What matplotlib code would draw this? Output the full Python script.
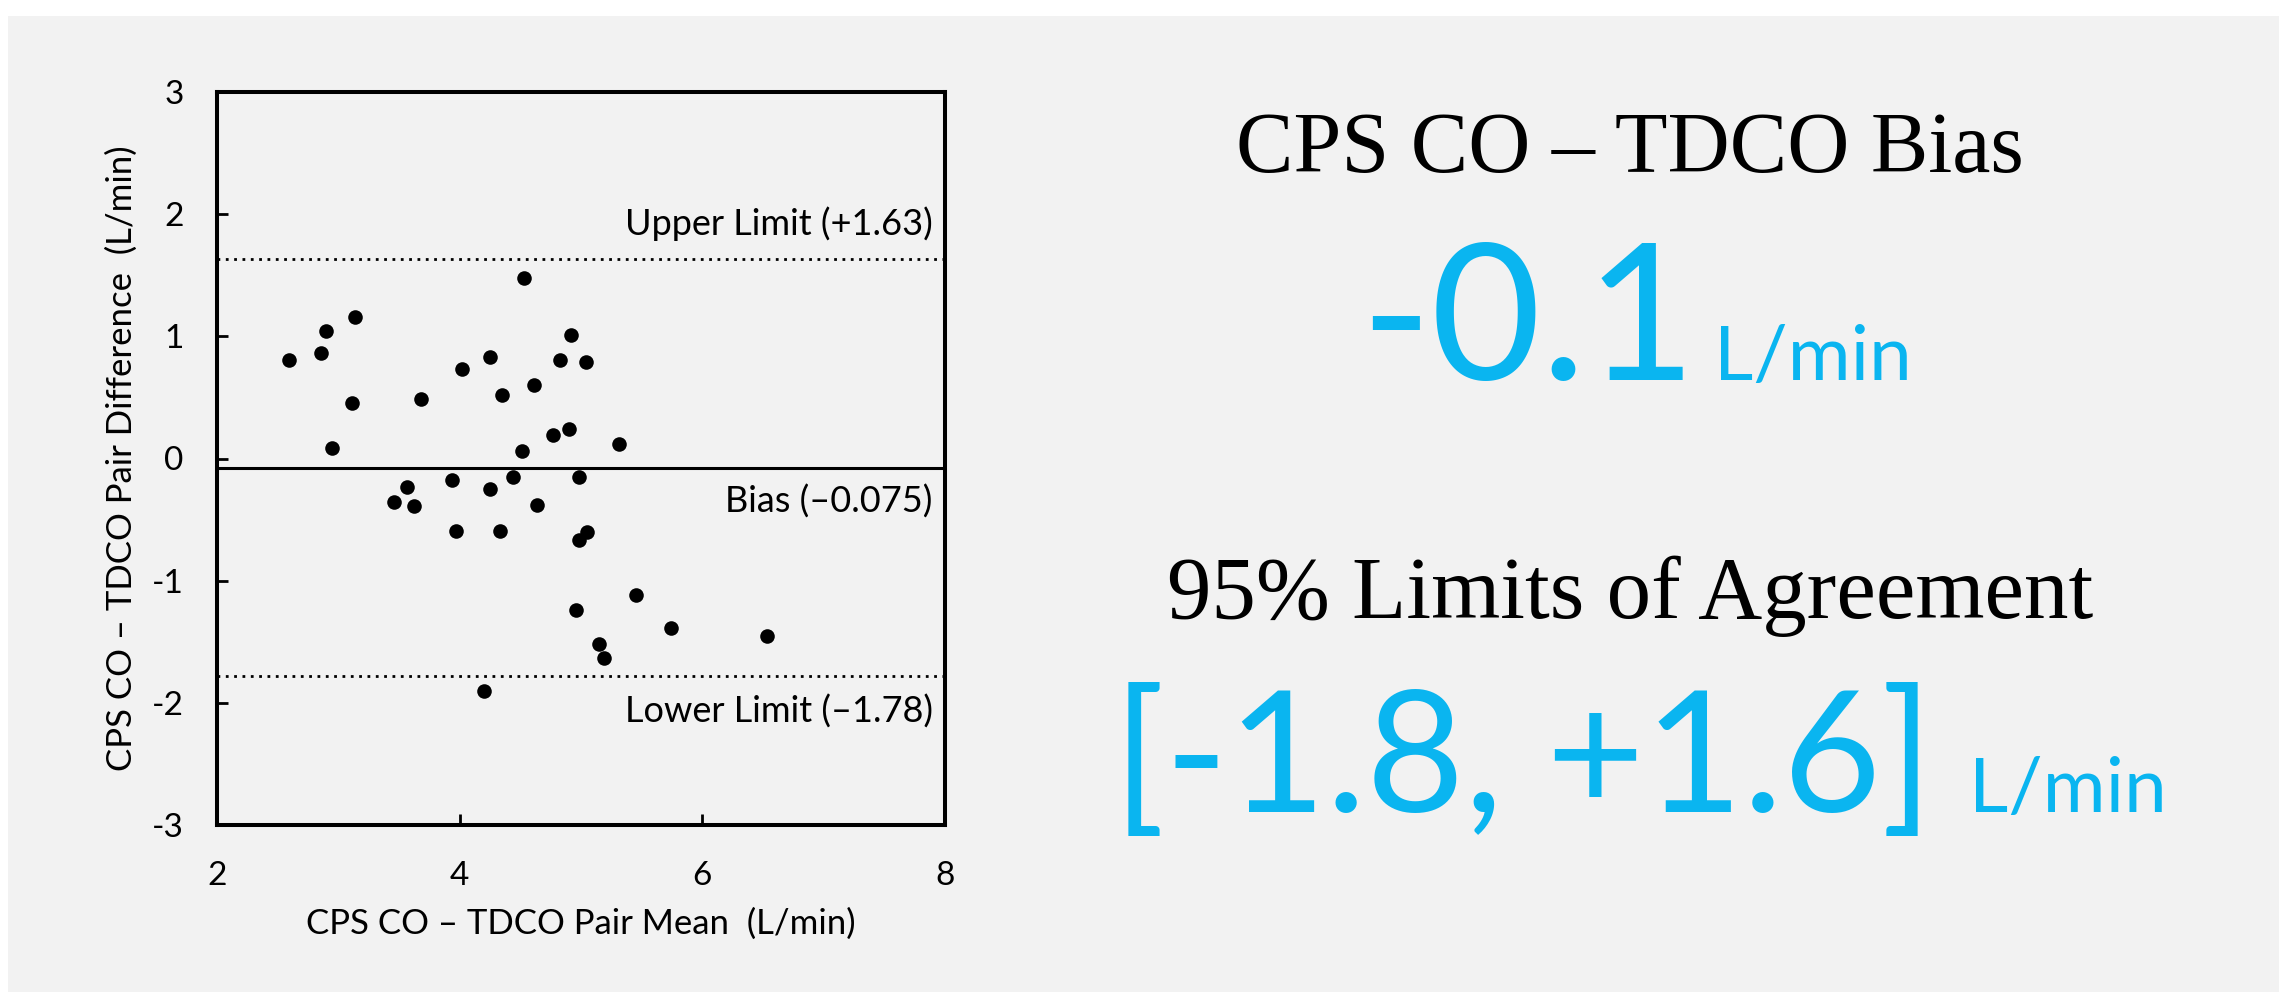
import matplotlib
matplotlib.use("Agg")
from matplotlib import pyplot as plt
from matplotlib.patches import Rectangle

# Bland-Altman data: pair mean (L/min) and pair difference (L/min)
pair_mean = [2.59, 2.86, 2.90, 2.95, 3.11, 3.14, 3.46, 3.57, 3.62, 3.68,
             3.94, 3.97, 4.02, 4.25, 4.25, 4.20, 4.33, 4.35, 4.44, 4.51,
             4.53, 4.61, 4.64, 4.77, 4.83, 4.90, 4.92, 4.98, 4.96, 4.98,
             5.04, 5.05, 5.15, 5.19, 5.31, 5.45, 5.74, 6.53]
pair_diff = [0.81, 0.86, 1.04, 0.09, 0.455, 1.16, -0.36, -0.23, -0.39, 0.49,
             -0.18, -0.59, 0.73, 0.83, -0.25, -1.90, -0.59, 0.52, -0.15, 0.06,
             1.48, 0.60, -0.38, 0.19, 0.81, 0.24, 1.01, -0.15, -1.24, -0.67,
             0.79, -0.60, -1.52, -1.63, 0.115, -1.12, -1.39, -1.45]

bias = -0.075
upper_limit = 1.63
lower_limit = -1.78

x_ticks = [2, 4, 6, 8]
y_ticks = [-3, -2, -1, 0, 1, 2, 3]

BLUE = "#0ab5f0"
W, H = 2279, 992

plt.rcParams['font.family'] = ['Lato', 'DejaVu Sans']
plt.rcParams['axes.unicode_minus'] = False

fig = plt.figure(figsize=(W / 100, H / 100), dpi=100, facecolor="white")
fig.patches.append(Rectangle((8 / W, 0), 1, 1 - 16 / H, transform=fig.transFigure,
                             facecolor="#f2f2f2", edgecolor="none", zorder=-10))

ax = fig.add_axes([217 / W, 1 - 825 / H, (945 - 217) / W, (825 - 92) / H])
ax.set_facecolor("none")
ax.scatter(pair_mean, pair_diff, s=110, color="black", zorder=3, linewidths=0)
ax.axhline(bias, color="black", lw=2.2)
ax.axhline(upper_limit, color="black", lw=2.0, dashes=(1, 2))
ax.axhline(lower_limit, color="black", lw=2.0, dashes=(1, 2))

ax.set_xlim(2, 8)
ax.set_ylim(-3, 3)
ax.set_xticks(x_ticks)
ax.set_yticks(y_ticks)
for s in ax.spines.values():
    s.set_linewidth(2.9)
ax.tick_params(direction="in", length=8, width=2, labelsize=24, colors="black")
ax.tick_params(axis="x", pad=26)
ax.tick_params(axis="y", pad=24)

ax.set_xlabel("CPS CO \u2013 TDCO Pair Mean  (L/min)", fontsize=25, labelpad=12)
ax.set_ylabel("CPS CO \u2013 TDCO Pair Difference  (L/min)", fontsize=25, labelpad=10)

ax.text(7.9, 1.83, "Upper Limit (+1.63)", ha="right", va="baseline", fontsize=26)
ax.text(7.9, -0.445, "Bias (\u20130.075)", ha="right", va="baseline", fontsize=26)
ax.text(7.9, -2.16, "Lower Limit (\u20131.78)", ha="right", va="baseline", fontsize=26)

# right side summary
serif = ['Liberation Serif', 'DejaVu Serif']
fig.text(1630 / W, 1 - 172 / H, "CPS CO \u2013 TDCO Bias", ha="center", va="baseline",
         fontsize=62, family=serif)
fig.text(1360 / W, 1 - 380 / H, "-0.1", ha="left", va="baseline", fontsize=137, color=BLUE)
fig.text(1714 / W, 1 - 380 / H, "L/min", ha="left", va="baseline", fontsize=55, color=BLUE)

fig.text(1630 / W, 1 - 618 / H, "95% Limits of Agreement", ha="center", va="baseline",
         fontsize=64, family=serif)
fig.text(1113 / W, 1 - 812 / H, "[-1.8, +1.6]", ha="left", va="baseline", fontsize=122, color=BLUE)
fig.text(1969 / W, 1 - 812 / H, "L/min", ha="left", va="baseline", fontsize=55, color=BLUE)

fig.savefig("out.png", dpi=100, facecolor=fig.get_facecolor())
